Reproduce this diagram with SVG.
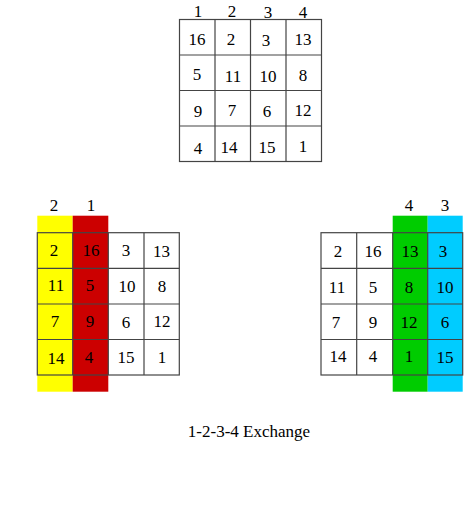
<svg xmlns="http://www.w3.org/2000/svg" width="467" height="519" viewBox="0 0 467 519">
<style>
.t{font-family:"Liberation Serif","Times New Roman",serif;font-size:17px;fill:#000;text-anchor:middle}
.cap{font-size:17px}
.y{fill:#ffff00}.r{fill:#cc0000}.g{fill:#00cc00}.b{fill:#00ccff}
</style>
<rect width="467" height="519" fill="#fff"/>
<g id="top-grid">
<g fill="none" stroke="#444" stroke-width="1.2">
<rect x="179.5" y="19.5" width="142" height="142"/>
<path d="M215 19.5V161.5M250.5 19.5V161.5M286 19.5V161.5M179.5 55H321.5M179.5 90.5H321.5M179.5 126H321.5"/>
</g>
<text class="t" x="198" y="17">1</text><text class="t" x="232" y="17">2</text><text class="t" x="268" y="18">3</text><text class="t" x="303" y="18">4</text>
<text class="t" x="197" y="45">16</text><text class="t" x="231" y="45">2</text><text class="t" x="266" y="46">3</text><text class="t" x="303" y="45">13</text>
<text class="t" x="197" y="80">5</text><text class="t" x="233" y="82">11</text><text class="t" x="268" y="82">10</text><text class="t" x="303" y="81">8</text>
<text class="t" x="198" y="117">9</text><text class="t" x="232" y="116">7</text><text class="t" x="267" y="117">6</text><text class="t" x="303" y="116">12</text>
<text class="t" x="198" y="154">4</text><text class="t" x="229" y="153">14</text><text class="t" x="267" y="153">15</text><text class="t" x="303" y="152">1</text>
</g>
<g id="left-grid">
<rect class="y" x="37.3" y="215.7" width="35.4" height="176"/>
<rect class="r" x="72.7" y="215.7" width="35.6" height="176"/>
<g fill="none" stroke="#444" stroke-width="1.2">
<rect x="37.3" y="232.7" width="142" height="142.3"/>
<path d="M72.7 232.7V375M108.3 232.7V375M144 232.7V375M37.3 268.3H179.3M37.3 304H179.3M37.3 339.5H179.3"/>
</g>
<text class="t" x="54" y="211">2</text><text class="t" x="91" y="211">1</text>
<text class="t" x="54" y="256">2</text><text class="t" x="91" y="256">16</text><text class="t" x="126" y="256">3</text><text class="t" x="161.5" y="257">13</text>
<text class="t" x="56" y="291">11</text><text class="t" x="90" y="291">5</text><text class="t" x="127" y="292">10</text><text class="t" x="162" y="292">8</text>
<text class="t" x="55" y="327">7</text><text class="t" x="90" y="327">9</text><text class="t" x="126" y="328">6</text><text class="t" x="162" y="327">12</text>
<text class="t" x="56" y="364">14</text><text class="t" x="89" y="363">4</text><text class="t" x="126" y="363">15</text><text class="t" x="162" y="363">1</text>
</g>
<g id="right-grid">
<rect class="g" x="392.7" y="215.7" width="35" height="176"/>
<rect class="b" x="427.7" y="215.7" width="35" height="176"/>
<g fill="none" stroke="#444" stroke-width="1.2">
<rect x="321" y="232.7" width="141.7" height="142.3"/>
<path d="M356.7 232.7V375M392.7 232.7V375M427.7 232.7V375M321 268.3H462.7M321 304H462.7M321 339.5H462.7"/>
</g>
<text class="t" x="409" y="211">4</text><text class="t" x="445" y="211">3</text>
<text class="t" x="338" y="257">2</text><text class="t" x="373" y="257">16</text><text class="t" x="410" y="257">13</text><text class="t" x="443" y="257">3</text>
<text class="t" x="337" y="293">11</text><text class="t" x="373" y="293">5</text><text class="t" x="409" y="293">8</text><text class="t" x="445" y="293">10</text>
<text class="t" x="336" y="328">7</text><text class="t" x="373" y="328">9</text><text class="t" x="409" y="328">12</text><text class="t" x="445" y="328">6</text>
<text class="t" x="338" y="362">14</text><text class="t" x="373" y="362">4</text><text class="t" x="409" y="362">1</text><text class="t" x="445" y="363">15</text>
</g>
<text id="caption" class="t cap" x="249" y="437">1-2-3-4 Exchange</text>
</svg>
